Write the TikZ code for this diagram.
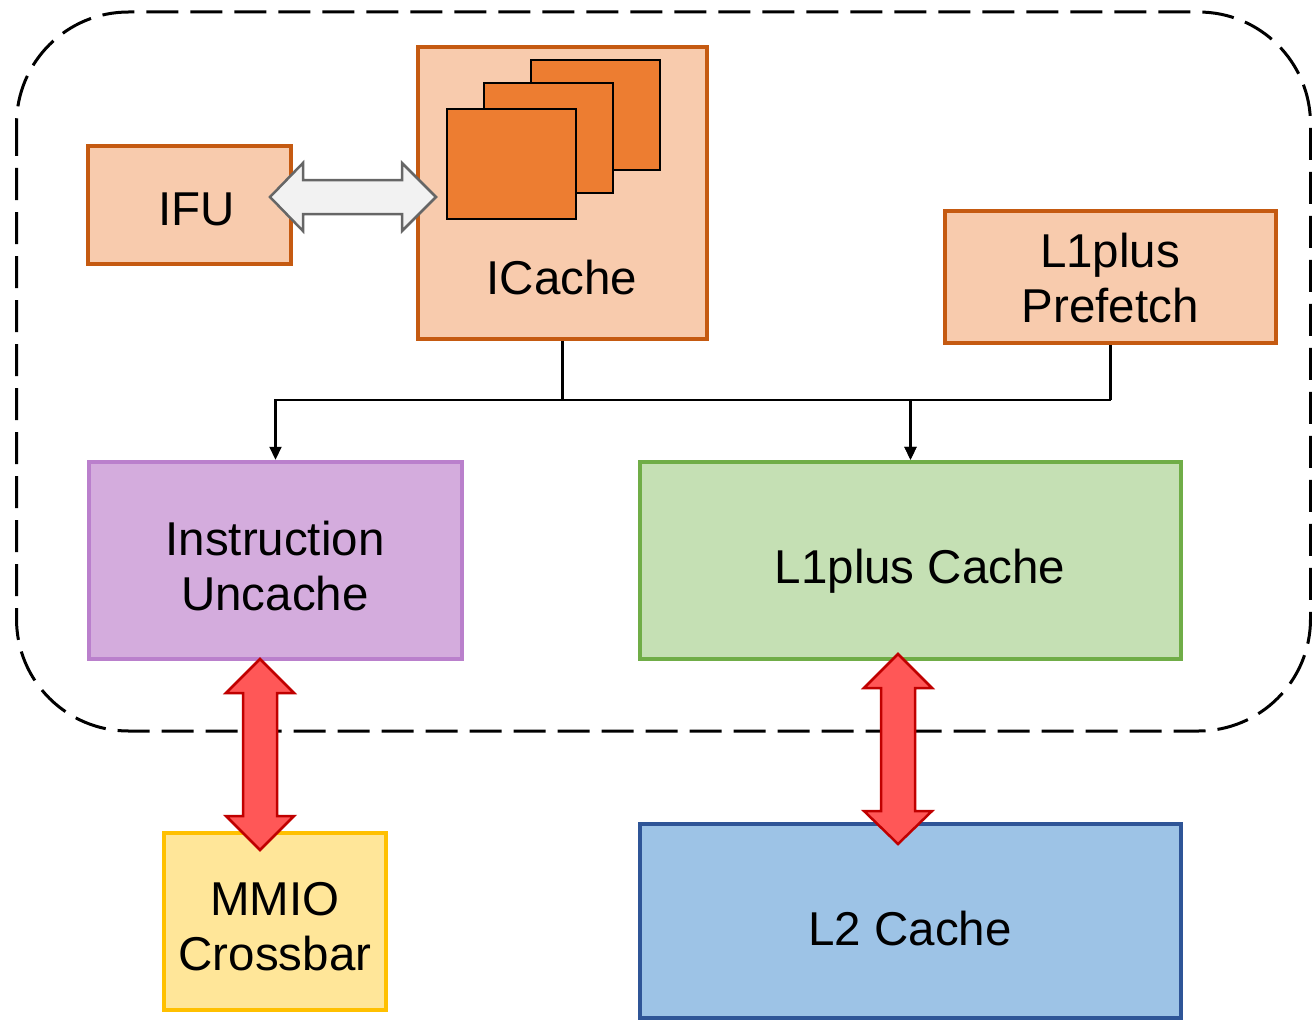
\documentclass[tikz,border=0pt]{standalone}
\usepackage{fontspec}
\setmainfont{Liberation Sans}
\usetikzlibrary{arrows.meta}
\newcommand\lbl{\fontsize{47.5}{55}\selectfont}
\definecolor{orgline}{HTML}{C55A11}
\definecolor{orgfill}{HTML}{F8CBAD}
\definecolor{orgdark}{HTML}{ED7D31}
\definecolor{purline}{RGB}{186,128,204}
\definecolor{purfill}{RGB}{212,172,221}
\definecolor{grnline}{HTML}{70AD47}
\definecolor{grnfill}{HTML}{C5E0B4}
\definecolor{yelline}{HTML}{FFC000}
\definecolor{yelfill}{HTML}{FFE699}
\definecolor{bluline}{HTML}{2F5597}
\definecolor{blufill}{HTML}{9DC3E6}
\definecolor{redline}{RGB}{192,0,0}
\definecolor{redfill}{RGB}{255,87,87}
\definecolor{gryline}{HTML}{666666}
\definecolor{gryfill}{HTML}{F2F2F2}
\begin{document}
\begin{tikzpicture}[x=1pt,y=-1pt,
  box/.style={draw, line width=4.5pt, inner sep=0pt, rectangle},
  orgbox/.style={box, draw=orgline, fill=orgfill},
  txt/.style={font=\lbl, inner sep=0pt, text height=34pt, text depth=0pt},
  txttwo/.style={font=\lbl, inner sep=0pt, align=center, text height=89pt, text depth=0pt},
  layer/.style={draw=black, fill=orgdark, line width=2.2pt},
  conn/.style={draw=black, line width=2.2pt, -{Triangle[length=13pt,width=12pt]}},
  plain/.style={draw=black, line width=2.2pt},
  wide/.style={line width=2.5pt, line join=miter},
]
\path[use as bounding box] (0,0) rectangle (1312,1022);

% frontend boundary
\draw[line width=3pt, dash pattern=on 32pt off 12pt, rounded corners=112pt]
  (16.5,12) rectangle (1310.5,731);

% boxes
\node[orgbox, minimum width=203pt, minimum height=118pt] (ifu) at (189.5,205) {};
\node[orgbox, minimum width=289pt, minimum height=292pt] (icache) at (562.5,193) {};
\node[orgbox, minimum width=331pt, minimum height=132pt] (pref) at (1110.5,277) {};
\node[box, draw=purline, fill=purfill, minimum width=373pt, minimum height=197pt] (unc) at (275.5,560.5) {};
\node[box, draw=grnline, fill=grnfill, minimum width=541pt, minimum height=197pt] (l1c) at (910.5,560.5) {};
\node[box, draw=yelline, fill=yelfill, minimum width=222pt, minimum height=177pt] (mmio) at (275,921.5) {};
\node[box, draw=bluline, fill=blufill, minimum width=541pt, minimum height=194pt] (l2) at (910.5,921) {};

% cache ways inside the ICache
\filldraw[layer] (531,60) rectangle (660,170);
\filldraw[layer] (484,83) rectangle (613,193);
\filldraw[layer] (447,109) rectangle (576,219);

% labels
\node[txt] (ifu-t) at (196.5,208) {IFU};
\node[txt] (icache-t) at (562,277) {ICache};
\node[txttwo] (pref-t) at (1110,278) {L1plus\\Prefetch};
\node[txttwo] (unc-t) at (275,566) {Instruction\\Uncache};
\node[txt] (l1c-t) at (920,566) {L1plus Cache};
\node[txttwo] (mmio-t) at (275,926) {MMIO\\Crossbar};
\node[txt] (l2-t) at (910,928) {L2 Cache};

% request paths
\coordinate (bus) at (0,400);
\draw[plain] (icache.south) -- (icache.south |- bus);
\draw[plain] (pref.south) -- (pref.south |- bus);
\draw[conn] (icache.south |- bus) -| (unc.north);
\draw[conn] (icache.south |- bus) -| (l1c.north);
\draw[conn] (pref.south |- bus) -| (l1c.north);

% IFU <-> ICache
\filldraw[wide, draw=gryline, fill=gryfill]
  (270,197) -- (303,163) -- (303,180) -- (402,180) -- (402,163) -- (436,197)
  -- (402,231) -- (402,214) -- (303,214) -- (303,231) -- cycle;

% Uncache <-> MMIO crossbar
\filldraw[wide, draw=redline, fill=redfill]
  (260,659) -- (294,693) -- (277,693) -- (277,816) -- (294,816) -- (260,850)
  -- (226,816) -- (243,816) -- (243,693) -- (226,693) -- cycle;

% L1plus Cache <-> L2 Cache
\filldraw[wide, draw=redline, fill=redfill]
  (898,654) -- (932,688) -- (915,688) -- (915,811) -- (932,811) -- (898,844)
  -- (864,811) -- (881,811) -- (881,688) -- (864,688) -- cycle;
\end{tikzpicture}
\end{document}
